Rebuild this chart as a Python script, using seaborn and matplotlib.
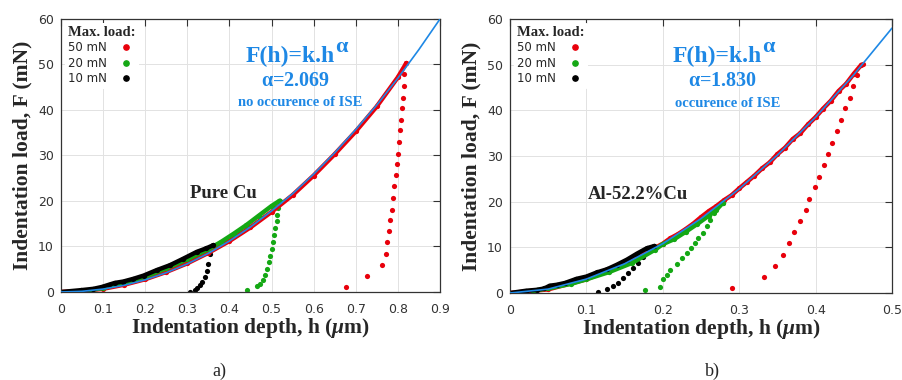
import matplotlib
matplotlib.use("Agg")
import matplotlib.pyplot as plt
import seaborn as sns

# ---------- a) Pure Cu ----------
cu_fit_h = [0, 0.05, 0.1, 0.15, 0.2, 0.25, 0.3, 0.35, 0.4, 0.45, 0.5, 0.55, 0.6, 0.65, 0.7, 0.75, 0.8, 0.85, 0.9]
cu_fit_F = [0, 0.15, 0.64, 1.47, 2.67, 4.24, 6.18, 8.50, 11.2, 14.3, 17.8, 21.6, 25.9, 30.6, 35.7, 41.1, 47.0, 53.3, 60.0]

cu50_load_h = [0, 0.05, 0.1, 0.15, 0.2, 0.25, 0.3, 0.35, 0.4, 0.45, 0.5, 0.55, 0.6, 0.65, 0.7, 0.75, 0.8, 0.82]
cu50_load_F = [0, 0.2, 0.7, 1.6, 2.8, 4.4, 6.3, 8.6, 11.2, 14.2, 17.6, 21.3, 25.6, 30.3, 35.3, 40.8, 47.2, 50.3]
cu50_unl_h = [0.819, 0.815, 0.8145, 0.812, 0.8106, 0.807, 0.805, 0.803, 0.7995, 0.797, 0.795, 0.7916,
              0.7876, 0.785, 0.781, 0.778, 0.774, 0.771, 0.762, 0.726, 0.676]
cu50_unl_F = [50.3, 47.9, 45.3, 42.7, 40.5, 37.9, 35.5, 32.9, 30.4, 28.1, 25.7, 23.3,
              20.7, 18.1, 15.8, 13.4, 10.9, 8.4, 6.0, 3.5, 1.0]

cu20_load_h = [0.07, 0.1, 0.15, 0.2, 0.25, 0.3, 0.35, 0.38, 0.41, 0.44, 0.47, 0.5, 0.52]
cu20_load_F = [0.4, 0.9, 2.0, 3.4, 5.2, 7.2, 9.4, 11.0, 12.8, 14.7, 16.8, 18.9, 20.1]
cu20_unl_h = [0.518, 0.516, 0.514, 0.512, 0.509, 0.506, 0.503, 0.5, 0.497, 0.493, 0.489, 0.485, 0.48, 0.473, 0.465, 0.441]
cu20_unl_F = [20.0, 18.5, 17.0, 15.5, 14.0, 12.5, 11.0, 9.5, 8.0, 6.5, 5.0, 3.8, 2.7, 1.8, 1.4, 0.4]

cu10_load_h = [0, 0.047, 0.077, 0.097, 0.114, 0.128, 0.148, 0.172, 0.196, 0.227, 0.259, 0.29, 0.322, 0.345, 0.362]
cu10_load_F = [0, 0.4, 0.7, 1.1, 1.6, 2.0, 2.3, 2.9, 3.6, 4.8, 5.9, 7.3, 8.8, 9.6, 10.3]
cu10_unl_h = [0.362, 0.358, 0.354, 0.35, 0.346, 0.342, 0.336, 0.33, 0.324, 0.318, 0.306]
cu10_unl_F = [10.3, 9.9, 8.4, 6.2, 4.6, 3.3, 2.3, 1.5, 0.9, 0.4, 0.1]

# ---------- b) Al-52.2%Cu ----------
al_fit_h = [0, 0.05, 0.1, 0.15, 0.2, 0.25, 0.3, 0.35, 0.4, 0.45, 0.5]
al_fit_F = [0, 0.86, 3.05, 6.40, 10.8, 16.3, 22.8, 30.2, 38.5, 47.8, 58.0]

al50_load_h = [0, 0.05, 0.1, 0.15, 0.2, 0.21, 0.22, 0.23, 0.24, 0.25, 0.26, 0.27, 0.28, 0.29, 0.3,
               0.31, 0.32, 0.33, 0.34, 0.35, 0.36, 0.37, 0.38, 0.39, 0.4, 0.41, 0.42, 0.43, 0.44, 0.45, 0.46]
al50_load_F = [0, 0.8, 3.0, 6.3, 10.8, 12.0, 12.9, 14.0, 15.2, 16.6, 17.9, 19.0, 20.3, 21.4, 22.9,
               24.3, 25.7, 27.3, 28.6, 30.4, 31.8, 33.7, 35.0, 36.9, 38.5, 40.4, 42.1, 44.2, 45.8, 48.0, 50.0]
al50_unl_h = [0.4616, 0.454, 0.449, 0.4445, 0.439, 0.433, 0.428, 0.421, 0.416, 0.411, 0.405, 0.399,
              0.392, 0.387, 0.379, 0.372, 0.3655, 0.357, 0.347, 0.332, 0.290]
al50_unl_F = [50.1, 47.7, 45.3, 42.8, 40.5, 37.9, 35.5, 32.9, 30.5, 28.1, 25.5, 23.2,
              20.6, 18.1, 15.7, 13.3, 10.9, 8.4, 6.0, 3.5, 1.0]

al20_load_h = [0.03, 0.05, 0.08, 0.1, 0.13, 0.16, 0.19, 0.2, 0.215, 0.23, 0.245, 0.26, 0.27, 0.279]
al20_load_F = [0.5, 1.0, 2.0, 3.0, 4.6, 6.6, 9.5, 10.7, 11.8, 13.4, 15.1, 16.9, 18.2, 19.8]
al20_unl_h = [0.2786, 0.2707, 0.2664, 0.262, 0.2577, 0.2524, 0.2467, 0.2424, 0.2371, 0.2315, 0.225,
              0.2184, 0.2096, 0.205, 0.2009, 0.1965, 0.1769]
al20_unl_F = [19.8, 18.9, 17.5, 16.0, 14.6, 13.1, 12.0, 10.9, 9.8, 8.7, 7.7,
              6.4, 5.1, 3.9, 3.0, 1.4, 0.7]

al10_load_h = [0, 0.021, 0.035, 0.045, 0.052, 0.061, 0.072, 0.087, 0.1, 0.1135, 0.127, 0.14, 0.153, 0.166, 0.179, 0.189]
al10_load_F = [0, 0.5, 0.7, 1.0, 1.6, 1.8, 2.2, 3.1, 3.6, 4.5, 5.2, 6.2, 7.3, 8.6, 9.8, 10.3]
al10_unl_h = [0.189, 0.181, 0.1747, 0.168, 0.1616, 0.155, 0.148, 0.142, 0.135, 0.1266, 0.1157]
al10_unl_F = [10.3, 9.1, 7.9, 6.6, 5.5, 4.4, 3.3, 2.2, 1.6, 0.9, 0.15]

RED = "#e8000b"
GREEN = "#14a814"
BLACK = "#000000"
BLUE = "#1e88e5"
SERIF = "Liberation Serif"


def draw_panel(ax, fit, curves, xmax, xticks, name, name_pos, alpha_txt, ise_txt, txt_x):
    # curves: list of (label, color, load_h, load_F, unl_h, unl_F), drawn 50 -> 10
    for label, color, lh, lF, uh, uF in curves:
        sns.lineplot(x=lh, y=lF, ax=ax, color=color, lw=3.2, sort=False,
                     marker="o", markersize=3.8, markeredgewidth=0, legend=False)
        sns.scatterplot(x=uh, y=uF, ax=ax, color=color, s=14, linewidth=0, legend=False)
        # legend handle only
        ax.plot([], [], ls="none", marker="o", color=color, markersize=3.8, label=label)
    sns.lineplot(x=fit[0], y=fit[1], ax=ax, color=BLUE, lw=1.2, sort=False, legend=False, zorder=5)

    ax.set_xlim(0, xmax)
    ax.set_ylim(0, 60)
    ax.set_xticks(xticks)
    ax.set_xticklabels(["0"] + [f"{t:g}" for t in xticks[1:]])
    ax.set_yticks(range(0, 61, 10))
    ax.grid(True, color="#e2e2e2", lw=0.7)
    ax.tick_params(direction="in", length=5, width=0.8, top=True, right=True,
                   labelsize=9, colors="#333333")
    ax.tick_params(axis="x", pad=8)
    ax.tick_params(axis="y", pad=5)
    for sp in ax.spines.values():
        sp.set_color("#333333")
        sp.set_linewidth(0.9)

    ax.set_xlabel("Indentation depth, h ($\\mu$m)", fontsize=15.5, fontweight="bold",
                  family=SERIF, labelpad=0)
    ax.set_ylabel("Indentation load, F (mN)", fontsize=15.5, fontweight="bold",
                  family=SERIF, labelpad=4)

    ax.text(name_pos[0], name_pos[1], name, fontsize=13.5, fontweight="bold",
            family=SERIF, ha="left", va="baseline")
    # formula with a large superscript alpha, as in the original
    t = ax.text(txt_x - 0.012 * xmax / 0.9, 50.5, "F(h)=k.h", fontsize=17, fontweight="bold",
                family=SERIF, color=BLUE, ha="center", va="baseline")
    ax.annotate("$\\mathbf{\\alpha}$", xy=(1.0, 0.55), xycoords=t, fontsize=16,
                color=BLUE, ha="left", va="bottom")
    ax.text(txt_x, 45.3, alpha_txt, fontsize=14.5, fontweight="bold",
            family=SERIF, color=BLUE, ha="center", va="baseline")
    ax.text(txt_x + 0.012 * xmax / 0.9, 40.8, ise_txt, fontsize=10.5, fontweight="bold",
            family=SERIF, color=BLUE, ha="center", va="baseline")

    leg = ax.legend(title="Max. load:", loc="upper left", markerfirst=False,
                    frameon=True, framealpha=1, edgecolor="none", fontsize=8.5,
                    handlelength=0.8, handletextpad=1.2, labelspacing=0.2,
                    borderaxespad=0.3, borderpad=0.3, alignment="left",
                    title_fontproperties={"family": SERIF, "weight": "bold", "size": 10.5})
    leg.set_zorder(10)


sns.set_theme(style="white")
plt.rcParams["font.family"] = ["DejaVu Sans"]
plt.rcParams["mathtext.fontset"] = "custom"
plt.rcParams["mathtext.rm"] = SERIF
plt.rcParams["mathtext.it"] = SERIF + ":italic:bold"
plt.rcParams["mathtext.bf"] = SERIF + ":bold"

fig = plt.figure(figsize=(9.02, 3.8), dpi=100)
ax1 = fig.add_axes([0.0676, 0.2316, 0.4202, 0.7184])
ax2 = fig.add_axes([0.5654, 0.2289, 0.4235, 0.7211])

draw_panel(ax1, (cu_fit_h, cu_fit_F),
           [("50 mN", RED, cu50_load_h, cu50_load_F, cu50_unl_h, cu50_unl_F),
            ("20 mN", GREEN, cu20_load_h, cu20_load_F, cu20_unl_h, cu20_unl_F),
            ("10 mN", BLACK, cu10_load_h, cu10_load_F, cu10_unl_h, cu10_unl_F)],
           0.9, [0, 0.1, 0.2, 0.3, 0.4, 0.5, 0.6, 0.7, 0.8, 0.9],
           "Pure Cu", (0.306, 20.7), "$\\mathbf{\\alpha}$=2.069", "no occurence of ISE", 0.556)

draw_panel(ax2, (al_fit_h, al_fit_F),
           [("50 mN", RED, al50_load_h, al50_load_F, al50_unl_h, al50_unl_F),
            ("20 mN", GREEN, al20_load_h, al20_load_F, al20_unl_h, al20_unl_F),
            ("10 mN", BLACK, al10_load_h, al10_load_F, al10_unl_h, al10_unl_F)],
           0.5, [0, 0.1, 0.2, 0.3, 0.4, 0.5],
           "Al-52.2%Cu", (0.102, 20.6), "$\\mathbf{\\alpha}$=1.830", "occurence of ISE", 0.278)

fig.text(219 / 902, 1 - 371 / 380, "a)", fontsize=13, family=SERIF, ha="center", va="center")
fig.text(712 / 902, 1 - 371 / 380, "b)", fontsize=13, family=SERIF, ha="center", va="center")

fig.savefig("out.png", dpi=100)
